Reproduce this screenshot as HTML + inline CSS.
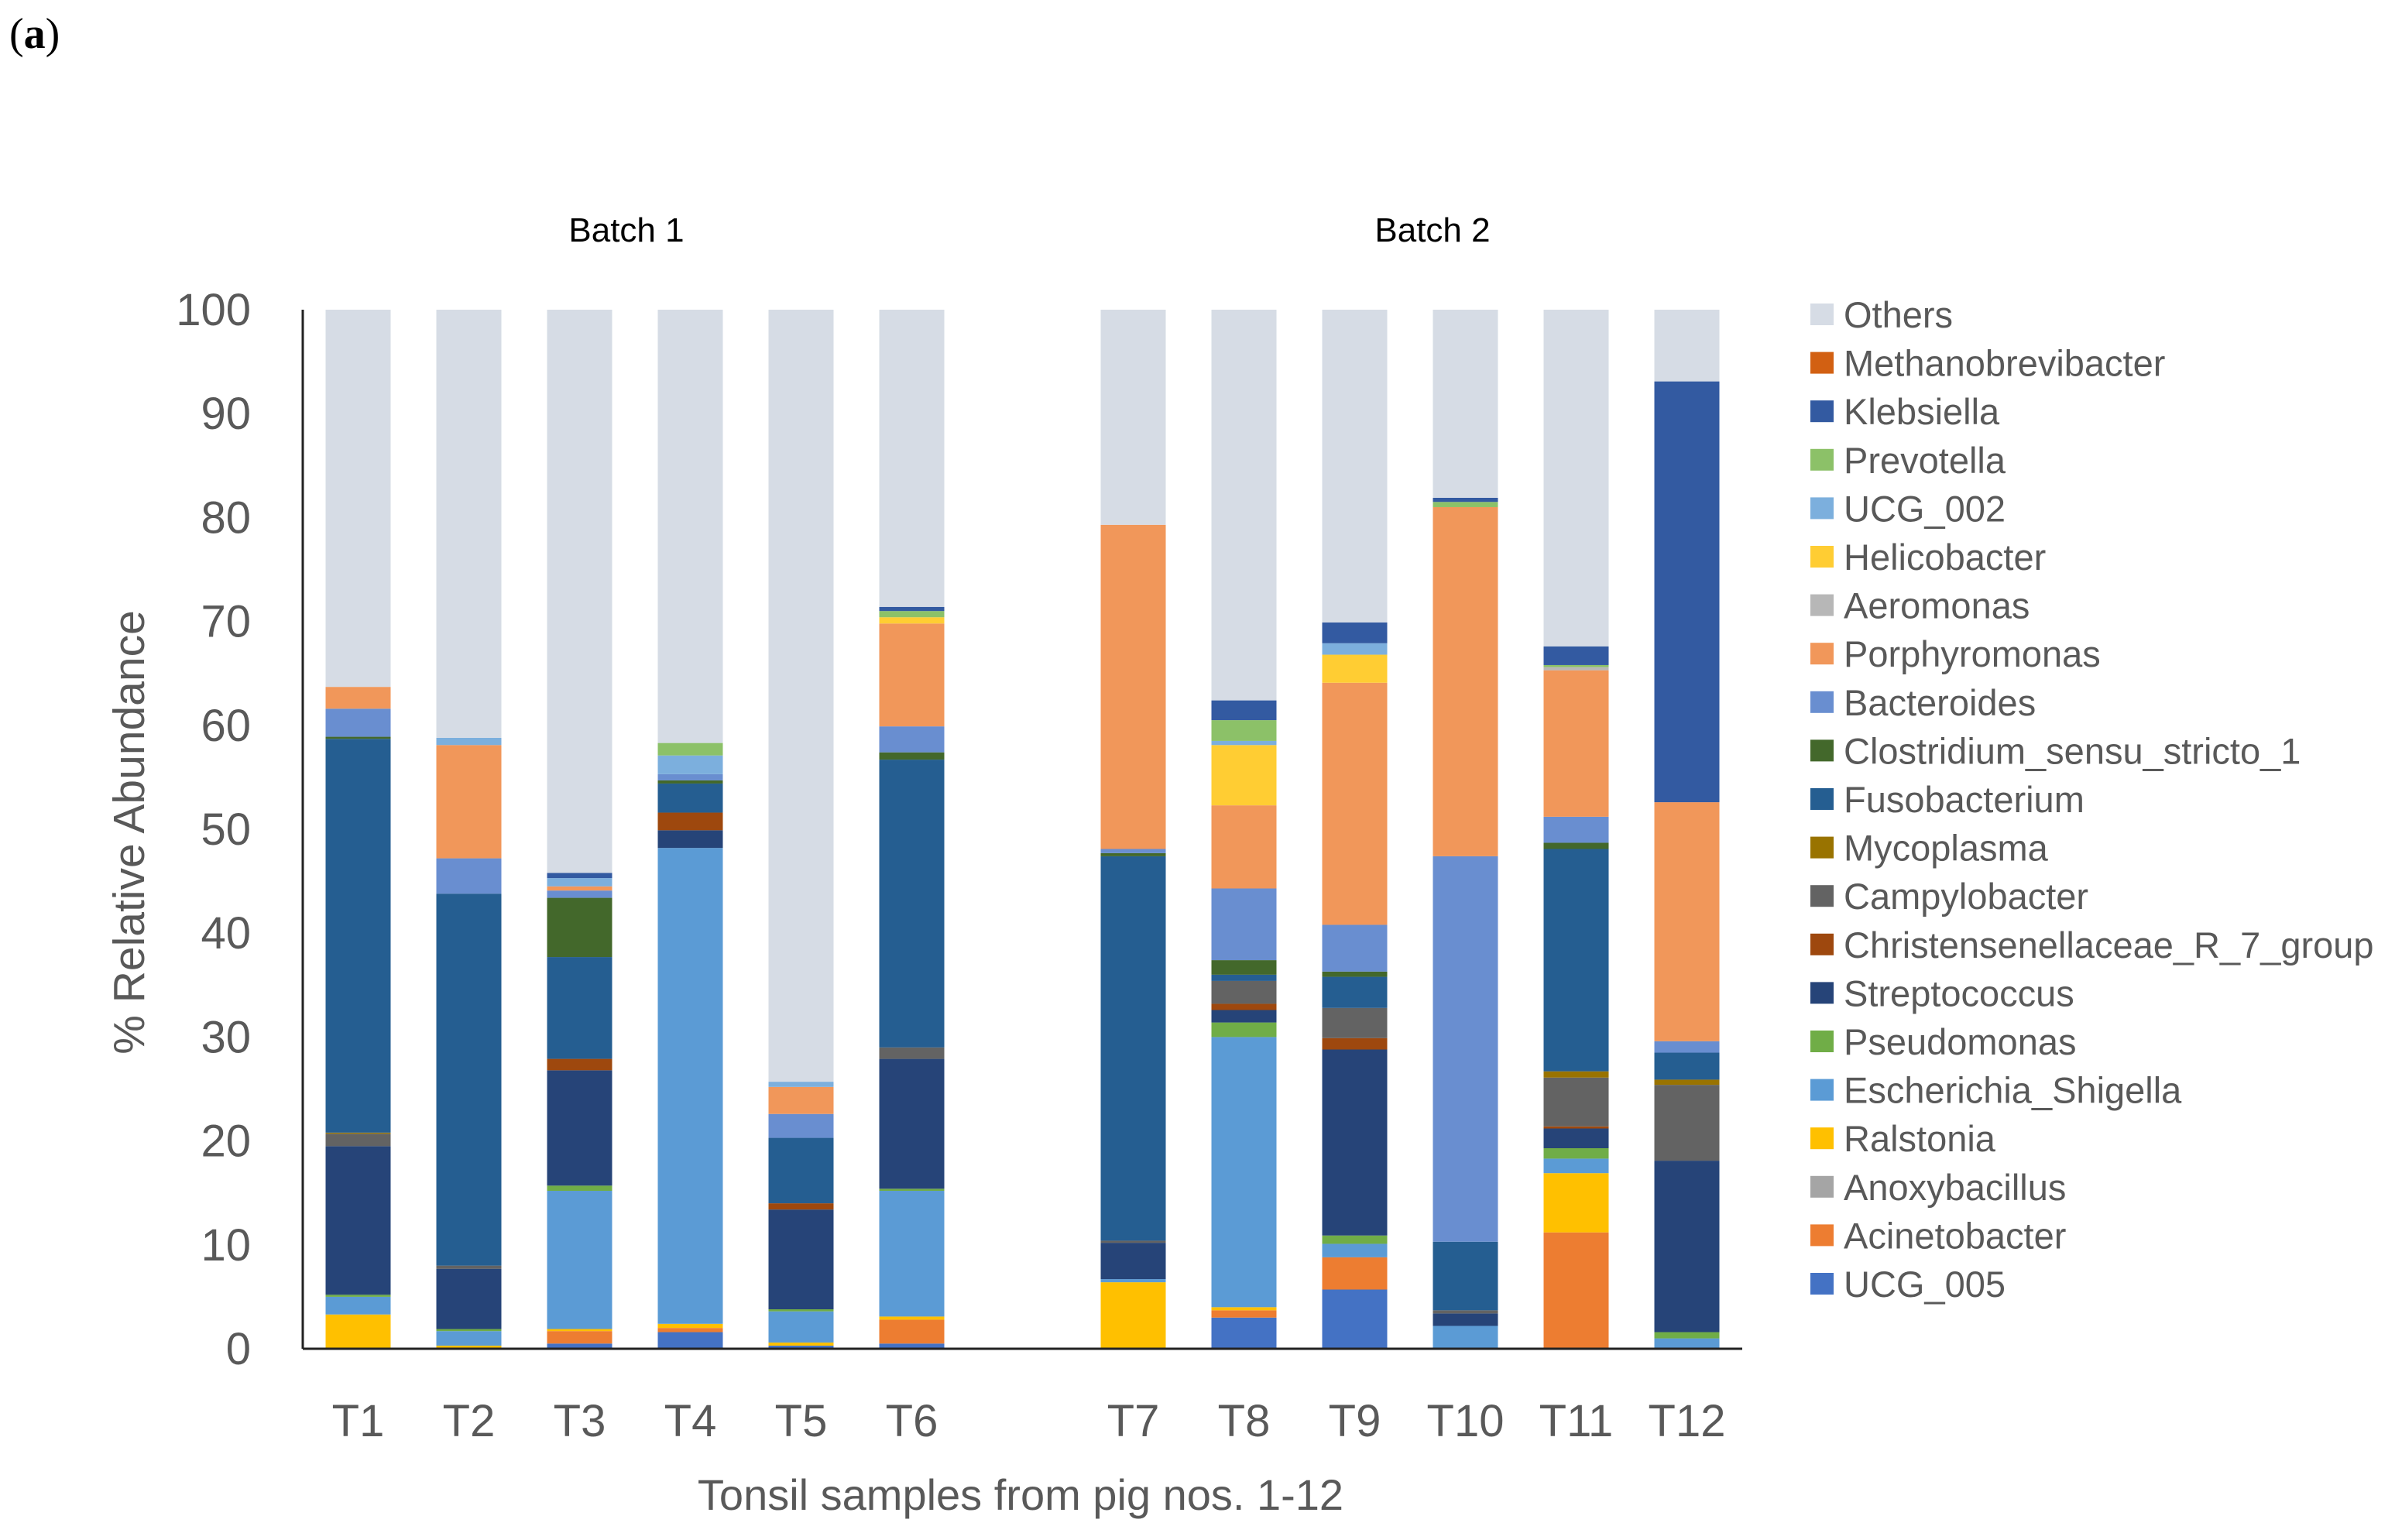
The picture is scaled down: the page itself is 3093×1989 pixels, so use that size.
<!DOCTYPE html>
<html><head><meta charset="utf-8"><style>
html,body{margin:0;padding:0;background:#fff;}
svg{display:block;font-family:"Liberation Sans",sans-serif;}
</style></head><body>
<svg id="chart" width="3093" height="1989" viewBox="0 0 3093 1989" xmlns="http://www.w3.org/2000/svg">
<text x="12" y="62" font-family="Liberation Serif, serif" font-size="56" fill="#000">(<tspan font-weight="bold">a</tspan>)</text>
<text x="809" y="312" font-size="44" fill="#000" text-anchor="middle">Batch 1</text>
<text x="1850" y="312" font-size="44" fill="#000" text-anchor="middle">Batch 2</text>
<text transform="translate(186,1075) rotate(-90)" font-size="57" fill="#595959" text-anchor="middle">% Relative Abundance</text>
<text x="1318" y="1950" font-size="56" fill="#595959" text-anchor="middle">Tonsil samples from pig nos. 1-12</text>
<g id="bars"></g><g id="axes"></g><g id="legend"></g>
</svg>
<script>
const samples=["T1","T2","T3","T4","T5","T6","T7","T8","T9","T10","T11","T12"];
const slots=[0,1,2,3,4,5,7,8,9,10,11,12];
const taxa=["UCG_005","Acinetobacter","Anoxybacillus","Ralstonia","Escherichia_Shigella","Pseudomonas","Streptococcus","Christensenellaceae_R_7_group","Campylobacter","Mycoplasma","Fusobacterium","Clostridium_sensu_stricto_1","Bacteroides","Porphyromonas","Aeromonas","Helicobacter","UCG_002","Prevotella","Klebsiella","Methanobrevibacter"];
const colors=["#4472C4","#ED7D31","#A5A5A5","#FFC000","#5B9BD5","#70AD47","#264478","#9E480E","#636363","#997300","#255E91","#43682B","#698ED0","#F1975A","#B7B7B7","#FFCD33","#7CAFDD","#8CC168","#335AA1","#D26012"];
const othersColor="#D6DCE5";
const UCG_005=[0,0,0.5,1.6,0.3,0.5,0,3.0,5.7,0,0,0];
const Acinetobacter=[0,0,1.2,0.4,0,2.3,0,0.7,3.1,0,11.2,0];
const Anoxybacillus=[0,0,0,0,0,0,0,0,0,0,0,0];
const Ralstonia=[3.3,0.3,0.2,0.4,0.3,0.3,6.4,0.3,0,0,5.7,0];
const Escherichia=[1.7,1.4,13.3,45.8,3.0,12.1,0.3,26.0,1.3,2.2,1.4,1.0];
const Pseudomonas=[0.2,0.2,0.5,0,0.2,0.2,0,1.4,0.8,0,1.0,0.6];
const Streptococcus=[14.3,5.8,11.1,1.7,9.6,12.5,3.5,1.2,17.9,1.2,1.9,16.5];
const Christensenellaceae=[0,0,1.1,1.7,0.6,0,0,0.6,1.1,0,0.2,0];
const Campylobacter=[1.2,0.3,0,0,0,1.1,0.2,2.2,2.9,0.3,4.7,7.3];
const Mycoplasma=[0.1,0,0,0,0,0,0,0,0,0,0.6,0.5];
const Fusobacterium=[37.9,35.8,9.8,2.8,6.3,27.7,37.0,0.6,3.0,6.6,21.4,2.6];
const Clostridium=[0.2,0,5.7,0.3,0,0.7,0.3,1.4,0.5,0,0.6,0];
const Bacteroides=[2.7,3.4,0.7,0.6,2.3,2.5,0.4,6.9,4.5,37.1,2.5,1.1];
const Porphyromonas=[2.1,10.9,0.4,0,2.6,9.9,31.2,8.0,23.3,33.6,14.1,23.0];
const Aeromonas=[0,0,0,0,0,0,0,0,0,0,0.3,0];
const Helicobacter=[0,0,0,0,0,0.6,0,5.8,2.7,0,0,0];
const UCG_002=[0,0.7,0.8,1.8,0.5,0,0,0.4,1.1,0,0,0];
const Prevotella=[0,0,0,1.2,0,0.6,0,2.0,0,0.5,0.2,0];
const Klebsiella=[0,0,0.5,0,0,0.4,0,1.9,2.0,0.4,1.8,40.5];
const Methanobrevibacter=[0,0,0,0,0,0,0,0,0,0,0,0];
const series=[UCG_005,Acinetobacter,Anoxybacillus,Ralstonia,Escherichia,Pseudomonas,Streptococcus,Christensenellaceae,Campylobacter,Mycoplasma,Fusobacterium,Clostridium,Bacteroides,Porphyromonas,Aeromonas,Helicobacter,UCG_002,Prevotella,Klebsiella,Methanobrevibacter];
const yTicks=[0,10,20,30,40,50,60,70,80,90,100];

const NS="http://www.w3.org/2000/svg";
const X0=391,SLOT=143,BW=84,Y0=1742,Y100=400;
const y=v=>Y0-(Y0-Y100)*v/100;
const xc=s=>X0+SLOT*(s+0.5);
function mk(tag,attrs,parent){const e=document.createElementNS(NS,tag);for(const k in attrs)e.setAttribute(k,attrs[k]);parent.appendChild(e);return e;}
const bars=document.getElementById('bars');
samples.forEach((s,i)=>{
  let cum=0;
  series.forEach((arr,k)=>{
    const v=arr[i];if(v<=0)return;
    const r=mk('rect',{x:xc(slots[i])-BW/2,y:y(cum+v),width:BW,height:y(cum)-y(cum+v),fill:colors[k]},bars);
    
    
    cum+=v;
  });
  const o=mk('rect',{x:xc(slots[i])-BW/2,y:y(100),width:BW,height:y(cum)-y(100),fill:othersColor},bars);
  
  
  const t=mk('text',{x:xc(slots[i]),y:1855,'font-size':58,fill:'#595959','text-anchor':'middle'},bars);
  t.textContent=s;
  
  
});
const axes=document.getElementById('axes');
const ya=mk('line',{x1:X0,y1:Y100,x2:X0,y2:Y0,stroke:'#222','stroke-width':3},axes);


const xa=mk('line',{x1:X0,y1:Y0,x2:X0+13*SLOT,y2:Y0,stroke:'#222','stroke-width':3},axes);


yTicks.forEach(v=>{
  const t=mk('text',{x:324,y:y(v)+20,'font-size':58,fill:'#595959','text-anchor':'end'},axes);
  t.textContent=v;
  
  
});
const legend=document.getElementById('legend');
const names=["Others"].concat(taxa.slice().reverse());
const lcolors=[othersColor].concat(colors.slice().reverse());
names.forEach((n,i)=>{
  const cy=406+i*62.6;
  const g=mk('g',{},legend);
  
  
  mk('rect',{x:2338,y:cy-14,width:30,height:28,fill:lcolors[i]},g);
  const t=mk('text',{x:2381,y:cy+17,'font-size':47,fill:'#595959','letter-spacing':0},g);
  t.textContent=n;
});
</script>
</body></html>
